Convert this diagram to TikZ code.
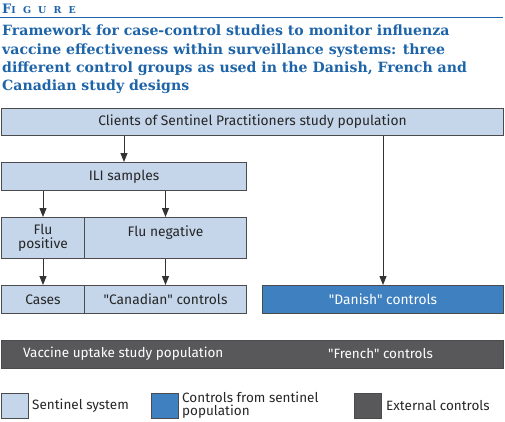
\documentclass[tikz,border=0pt]{standalone}
\usepackage{fontspec}
\newfontfamily\headfont{DejaVu Serif}
\newfontfamily\boxfont{Fira Sans}
\usetikzlibrary{arrows.meta}

\definecolor{figblue}{RGB}{30,100,168}
\definecolor{sentinel}{RGB}{197,214,235}
\definecolor{ctrlblue}{RGB}{62,128,192}
\definecolor{extgray}{RGB}{88,88,91}
\definecolor{edgegray}{RGB}{75,75,78}

\begin{document}
\begin{tikzpicture}[x=1pt, y=-1pt,
    box/.style={draw=edgegray, line width=1pt, fill=sentinel, font=\boxfont\fontsize{13.8}{14}\selectfont,
                align=center, inner sep=0pt, anchor=north west, text=black!85},
    ctrlbox/.style={box, fill=ctrlblue, text=white},
    extbox/.style={box, fill=extgray, text=white},
    legkey/.style={draw=edgegray, line width=1pt, minimum width=27pt, minimum height=25pt, anchor=north west, inner sep=0pt},
    legtext/.style={font=\boxfont\fontsize{13.5}{13}\selectfont, text=black!85, anchor=west, align=left, inner sep=0pt},
    flow/.style={draw=black!80, line width=0.9pt, -{Triangle[width=7pt,length=9pt]}},
  ]
  \useasboundingbox (0,0) rectangle (505,421);

  % ---------------- heading ------------------------------------------------
  \node[anchor=base west, inner sep=0pt, text=figblue, font=\headfont\bfseries\addfontfeature{LetterSpace=75}]
       (fig) at (2,13) {\fontsize{13}{13}\selectfont F\fontsize{9.5}{13}\selectfont IGURE};
  \draw[figblue, line width=1.6pt] (0,17.5) -- (503,17.5);
  \node[anchor=north west, inner sep=0pt, text=figblue, align=left,
        font=\headfont\bfseries\fontsize{14.1}{18.2}\selectfont] (title) at (2,25)
       {Framework for case-control studies to monitor influenza\\
        vaccine effectiveness within surveillance systems: three\\
        different control groups as used in the Danish, French and\\
        Canadian study designs};

  % ---------------- boxes --------------------------------------------------
  \node[box, minimum width=502pt, minimum height=27pt] (clients) at (1,108)
       {Clients of Sentinel Practitioners study population};
  \node[box, minimum width=245pt, minimum height=28pt] (ili) at (1,162) {ILI samples};
  \node[box, minimum width=83pt,  minimum height=41pt] (pos) at (1,217) {Flu\\positive};
  \node[box, minimum width=162pt, minimum height=41pt, text depth=14pt] (neg) at (84,217) {Flu negative};
  \node[box, minimum width=83pt,  minimum height=28pt] (cases) at (1,285) {Cases};
  \node[box, minimum width=162pt, minimum height=28pt] (canada) at (84,285) {"Canadian" controls};
  \node[ctrlbox, minimum width=241pt, minimum height=28pt] (danish) at (262,285) {"Danish" controls};
  \node[extbox, minimum width=502pt, minimum height=28pt] (vaccine) at (1,340) {};
  \node[legtext, text=white] (uptake) at (23,354) {Vaccine uptake study population};
  \node[legtext, text=white] (french) at (328,354) {"French" controls};

  % ---------------- arrows -------------------------------------------------
  \draw[flow] (clients.south -| ili.north) -- (ili.north);
  \draw[flow] (ili.south -| pos.north) -- (pos.north);
  \draw[flow] (ili.south -| neg.north) -- (neg.north);
  \draw[flow] (pos.south) -- (cases.north);
  \draw[flow] (neg.south) -- (canada.north);
  \draw[flow] (clients.south -| danish.north) -- (danish.north);

  % ---------------- legend -------------------------------------------------
  \node[legkey, fill=sentinel] (keysent) at (1,393) {};
  \node[legtext] (legsent) at (32,405.5) {Sentinel system};
  \node[legkey, fill=ctrlblue] (keyctrl) at (151,393) {};
  \node[legtext] (legctrl) at (182,405.5) {Controls from sentinel\\population};
  \node[legkey, fill=extgray] (keyext) at (354,393) {};
  \node[legtext] (legext) at (386,405.5) {External controls};
\end{tikzpicture}
\end{document}
